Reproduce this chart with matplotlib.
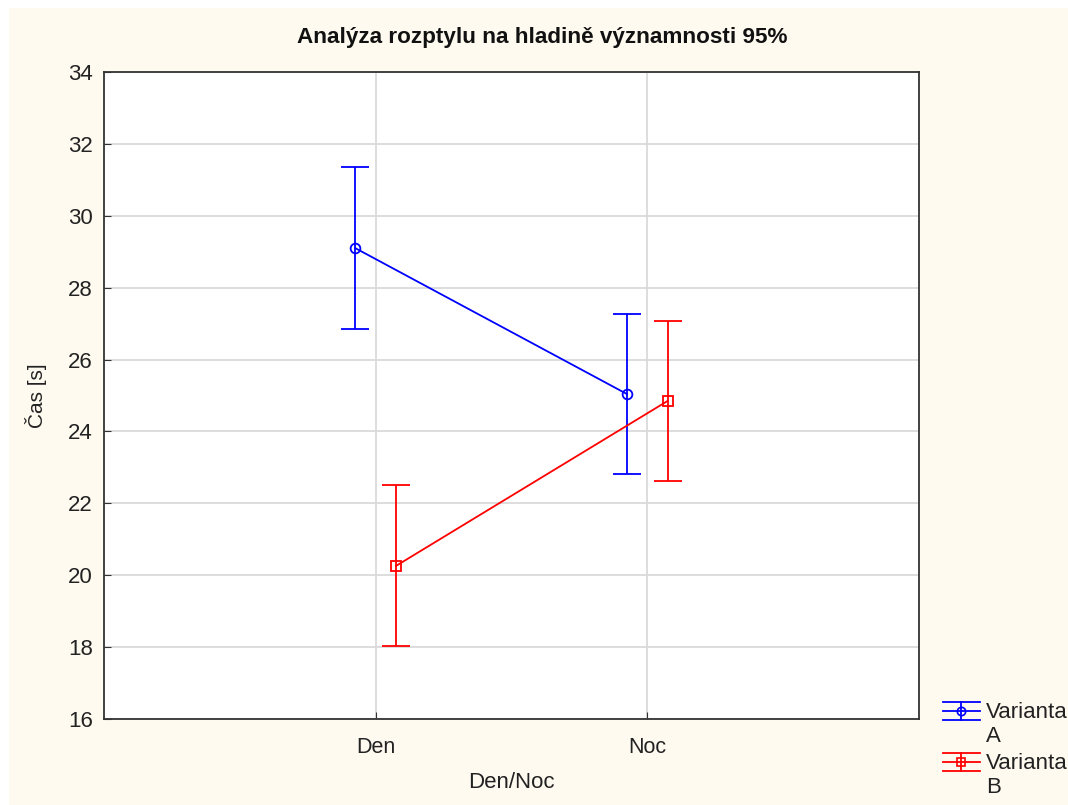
import matplotlib
matplotlib.use("Agg")
import matplotlib.pyplot as plt
from matplotlib.lines import Line2D
from matplotlib.patches import Rectangle
from matplotlib.legend_handler import HandlerBase

plt.rcParams['font.family'] = ['Liberation Sans', 'DejaVu Sans']

categories = ["Den", "Noc"]
series_names = ["Varianta\nA", "Varianta\nB"]
means_A = [29.10, 25.04]
err_A = [2.25, 2.22]
means_B = [20.26, 24.85]
err_B = [2.24, 2.23]
y_ticks = [16, 18, 20, 22, 24, 26, 28, 30, 32, 34]

BG = "#fffaf0"
TXT = "#222222"

fig = plt.figure(figsize=(10.68, 8.05), dpi=100, facecolor="white")
fig.add_artist(Rectangle((9 / 1068, 0), 1, 1 - 8 / 805, transform=fig.transFigure,
                         facecolor=BG, edgecolor="none", zorder=-10))

ax = fig.add_axes([104 / 1068, 1 - 719 / 805, (919 - 104) / 1068, (719 - 72) / 805])
ax.set_facecolor("white")

xpos = [1, 2]
off = 0.075
specs = [(means_A, err_A, "#0000ff", "o", -off, series_names[0]),
         (means_B, err_B, "#ff0000", "s", off, series_names[1])]
for m, e, c, mk, dx, lab in specs:
    xs = [x + dx for x in xpos]
    ax.errorbar(xs, m, yerr=e, color=c, lw=1.3, marker=mk, ms=7, mfc="none",
                mec=c, mew=1.3, capsize=10, capthick=1.3, elinewidth=1.3, label=lab, zorder=3)

ax.set_xlim(0, 3)
ax.set_ylim(16, 34)
ax.set_yticks(y_ticks)
ax.set_xticks(xpos)
ax.set_xticklabels(categories)
ax.grid(True, color="#dadada", lw=1.3)
ax.set_axisbelow(True)
for s in ax.spines.values():
    s.set_color("#333333")
    s.set_linewidth(1.3)
ax.tick_params(axis="y", direction="in", length=5, labelsize=16, pad=8, color="#333333")
ax.tick_params(axis="x", direction="in", length=5, labelsize=15.5, pad=13, color="#333333")
for t in ax.get_yticklabels() + ax.get_xticklabels():
    t.set_color(TXT)

ax.set_xlabel("Den/Noc", fontsize=16, color=TXT, labelpad=10)
ax.set_ylabel("Čas [s]", fontsize=15, color=TXT, labelpad=15)
fig.text(542 / 1068, 1 - 38 / 805, "Analýza rozptylu na hladině významnosti 95%",
         ha="center", va="center", fontsize=16.2, fontweight="bold", color="#111111")


class ErrHandler(HandlerBase):
    def __init__(self, color, marker):
        super().__init__()
        self.color = color
        self.marker = marker

    def create_artists(self, legend, orig_handle, xdescent, ydescent, width, height, fontsize, trans):
        c = self.color
        cy = height / 2 - ydescent + 0.6 * fontsize
        d = 6.5
        arts = []
        for yy in (cy + d, cy, cy - d):
            arts.append(Line2D([0, width], [yy, yy], color=c, lw=1.3))
        arts.append(Line2D([width / 2, width / 2], [cy - d, cy + d], color=c, lw=1.3))
        arts.append(Line2D([width / 2], [cy], marker=self.marker, ms=6, mfc="none", mec=c, mew=1.2, color=c))
        for a in arts:
            a.set_transform(trans)
        return arts


hA, hB = ax.get_legend_handles_labels()[0]
leg = fig.legend([hA, hB], series_names, loc="upper left",
                 bbox_to_anchor=(943 / 1068, 1 - 702 / 805), frameon=False,
                 fontsize=16, handlelength=1.65, handletextpad=0.3, labelspacing=0.28,
                 borderpad=0, borderaxespad=0,
                 handler_map={hA: ErrHandler("#0000ff", "o"), hB: ErrHandler("#ff0000", "s")})
for t in leg.get_texts():
    t.set_color(TXT)
    t.set_linespacing(1.18)

fig.savefig("out.png", dpi=100, facecolor=fig.get_facecolor())
